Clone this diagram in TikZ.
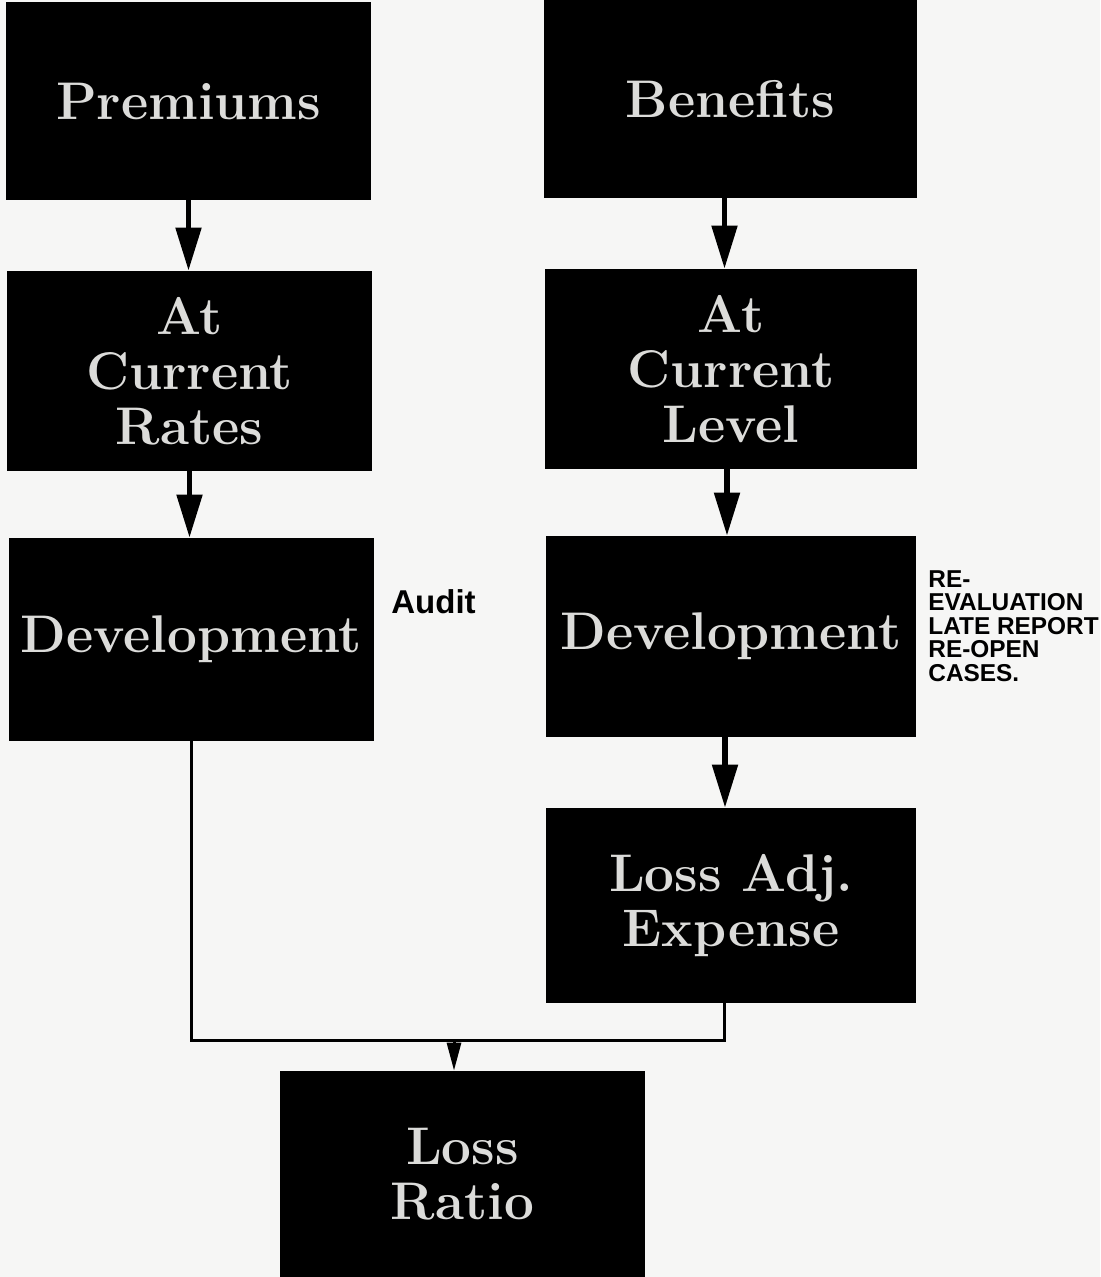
\documentclass[tikz,border=0pt]{standalone}
\usepackage{fontspec}
\newfontfamily\notefont{Liberation Sans}
\usetikzlibrary{arrows.meta}
\definecolor{paper}{HTML}{F6F6F5}
\definecolor{boxtext}{HTML}{DCDCDA}
\newcommand{\boxfont}{\fontsize{26.5}{27.5}\selectfont\bfseries}
\newcommand{\notesize}{\notefont\bfseries\fontsize{12.2}{11.75}\selectfont}
\begin{document}
\begin{tikzpicture}[x=0.5pt,y=-0.5pt,
  blk/.style={fill=black, draw=none, inner sep=0pt, text=boxtext,
              font=\boxfont, align=center},
  flow/.style={line width=2.6pt, -{Triangle[length=21.5pt,width=12.5pt]}},
  joinline/.style={line width=1.5pt},
  tip/.style={line width=1.5pt, -{Triangle[length=14pt,width=7pt]}},
  note/.style={inner sep=0pt, text=black}]
  % page
  \fill[paper] (0,0) rectangle (1100,1277);
  \useasboundingbox (0,0) rectangle (1100,1277);

  % premium column
  \node[blk, minimum width=182.5pt, minimum height=99pt]  (prem)  at (188.5,101) {Premiums};
  \node[blk, minimum width=182.5pt, minimum height=100pt] (rates) at (189.5,371) {At\\Current\\Rates};
  \node[blk, minimum width=182.5pt, minimum height=101.5pt] (devL) at (191.5,639.5) {Development};

  % benefit column
  \node[blk, minimum width=186.5pt, minimum height=99pt]  (ben)   at (730.5,99) {Benefits};
  \node[blk, minimum width=186pt, minimum height=100pt]   (level) at (731,369) {At\\Current\\Level};
  \node[blk, minimum width=185pt, minimum height=100.5pt] (devR)  at (731,636.5) {Development};
  \node[blk, minimum width=185pt, minimum height=97.5pt]  (lae)   at (731,905.5) {Loss Adj.\\Expense};

  % result
  \node[blk, minimum width=182.5pt, minimum height=103pt] (ratio) at (462.5,1174) {Loss\\Ratio};

  % side notes
  \node[note, font=\notefont\bfseries\fontsize{16.5}{17}\selectfont, anchor=base west] (audit) at (391,613) {Audit};
  \node[note, font=\notesize, align=left, anchor=north west] (reval) at (928,570)
    {RE-\\EVALUATION\\LATE REPORT\\RE-OPEN\\CASES.};

  % arrows
  \draw[flow] (prem.south) -- (prem.south |- rates.north);
  \draw[flow] (rates.south) -- (rates.south |- devL.north);
  \draw[flow] ([xshift=-3pt]ben.south) -- ([xshift=-3pt]ben.south |- level.north);
  \draw[flow] ([xshift=-2pt]level.south) -- ([xshift=-2pt]level.south |- devR.north);
  \draw[flow] ([xshift=-3pt]devR.south) -- ([xshift=-3pt]devR.south |- lae.north);

  % merge into loss ratio
  \coordinate (merge) at (454,1040);
  \draw[joinline] (devL.south) |- (merge) -| ([xshift=-3.5pt]lae.south);
  \draw[tip] (merge) -- (merge |- ratio.north);
\end{tikzpicture}
\end{document}
